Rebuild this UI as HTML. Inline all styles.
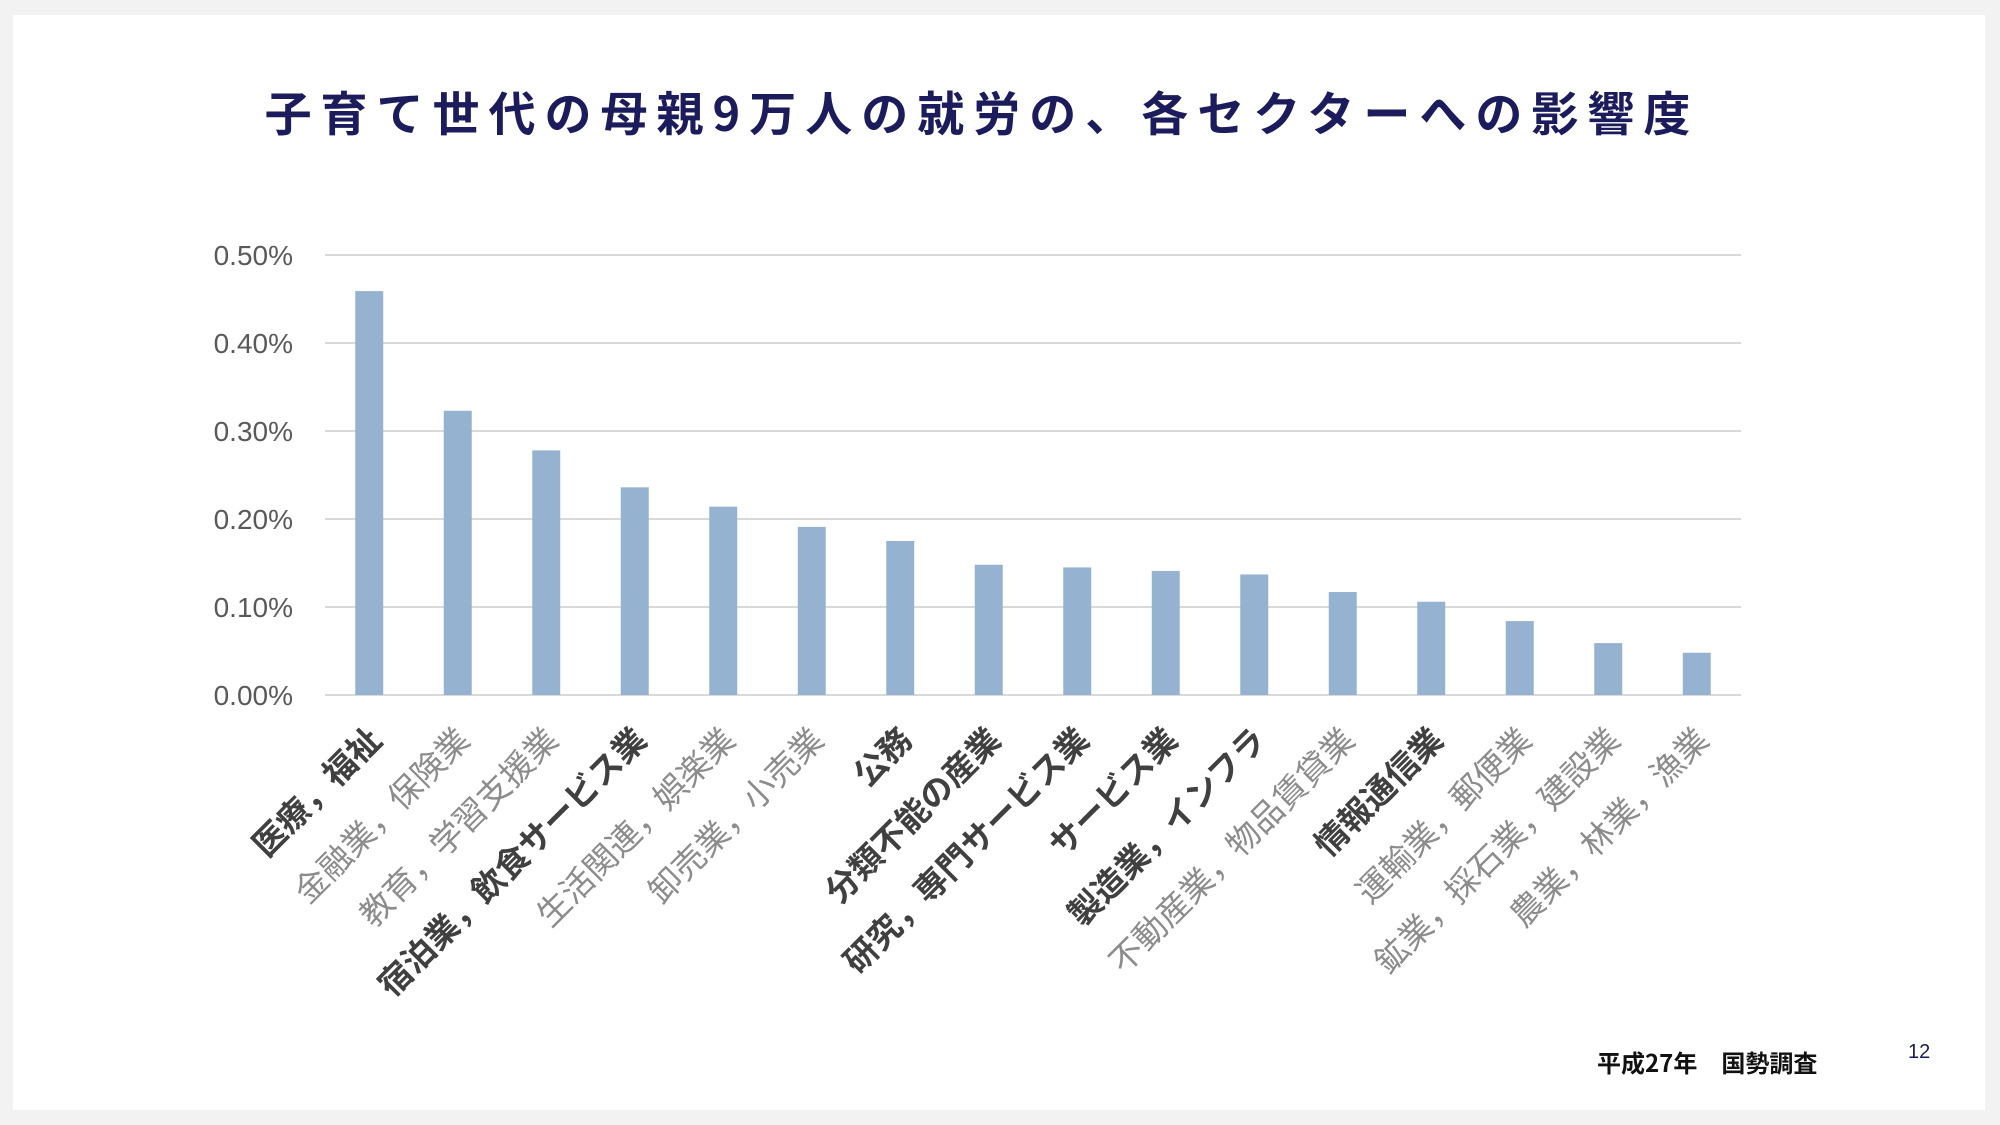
<!DOCTYPE html>
<html><head><meta charset="utf-8"><style>
html,body{margin:0;padding:0;background:#f2f2f2;}
svg{display:block;font-family:"Liberation Sans","Noto Sans CJK JP",sans-serif;}
</style></head><body>
<svg id="chart" width="2000" height="1125" viewBox="0 0 2000 1125" xmlns="http://www.w3.org/2000/svg">
<rect x="0" y="0" width="2000" height="1125" fill="#f2f2f2"/>
<rect x="13" y="15" width="1972" height="1095" fill="#ffffff"/>
<text x="982" y="131" text-anchor="middle" font-size="47" font-weight="bold" letter-spacing="9" fill="#1c1c5c" font-family="'Noto Sans CJK JP',sans-serif">子育て世代の母親9万人の就労の、各セクターへの影響度</text>
<g id="grid"></g>
<g id="yticks"></g>
<g id="bars"></g>
<g id="xlabels"></g>
<text x="1597" y="1072" font-size="24" font-weight="bold" fill="#111" font-family="'Noto Sans CJK JP',sans-serif">平成27年　国勢調査</text>
<text x="1908" y="1058" font-size="20" fill="#1c1c5c">12</text>
</svg>
<script>
const categories = ["医療，福祉","金融業，保険業","教育，学習支援業","宿泊業，飲食サービス業","生活関連，娯楽業","卸売業，小売業","公務","分類不能の産業","研究，専門サービス業","サービス業","製造業，インフラ","不動産業，物品賃貸業","情報通信業","運輸業，郵便業","鉱業，採石業，建設業","農業，林業，漁業"];
const values = [0.459,0.323,0.278,0.236,0.214,0.191,0.175,0.148,0.145,0.141,0.137,0.117,0.106,0.084,0.059,0.048];
const emphasized = [true,false,false,true,false,false,true,true,true,true,true,false,true,false,false,false];
const tickValues = [0,0.1,0.2,0.3,0.4,0.5];
const tickLabels = ["0.00%","0.10%","0.20%","0.30%","0.40%","0.50%"];

const NS="http://www.w3.org/2000/svg";
const X0=325, X1=1741, Y0=695, Y1=255, YMAX=0.5, BW=28;
const band=(X1-X0)/categories.length;
const xc=i=>X0+band*(i+0.5);
const y=v=>Y0-(v/YMAX)*(Y0-Y1);
function mk(tag,attrs,parent){const e=document.createElementNS(NS,tag);for(const k in attrs)e.setAttribute(k,attrs[k]);parent.appendChild(e);return e;}
const grid=document.getElementById('grid'),yt=document.getElementById('yticks'),bars=document.getElementById('bars'),xl=document.getElementById('xlabels');
tickValues.forEach((t,i)=>{
  const l=mk('line',{x1:X0,x2:X1,y1:y(t),y2:y(t),stroke:'#d9d9d9','stroke-width':2},grid);
  
  
  const tx=mk('text',{x:293,y:y(t)+10,'text-anchor':'end','font-size':28,fill:'#595959'},yt);
  tx.textContent=tickLabels[i];
  
  
});
categories.forEach((c,i)=>{
  const r=mk('rect',{x:xc(i)-BW/2,y:y(values[i]),width:BW,height:Y0-y(values[i]),fill:'#95b3d1'},bars);
  
  
  const lx=xc(i)+14, ly=742;
  const t=mk('text',{x:lx,y:ly,'text-anchor':'end','font-size':33,transform:`rotate(-45 ${lx} ${ly})`,fill:emphasized[i]?'#404040':'#8c8c8c','font-weight':emphasized[i]?'bold':'normal','font-family':"'Noto Sans CJK JP',sans-serif"},xl);
  t.textContent=c;
  
  
});
</script>
</body></html>
